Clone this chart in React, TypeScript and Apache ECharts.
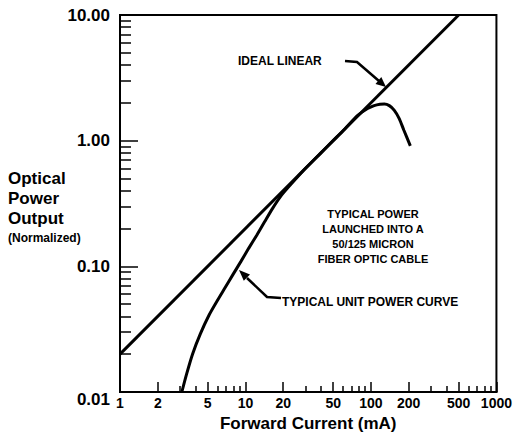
import React, { useEffect, useRef } from "react";
import * as echarts from "echarts";

const xMajorTicks = [1, 2, 5, 10, 20, 50, 100, 200, 500, 1000];
const xMinorTicks = [3, 4, 6, 7, 8, 9, 30, 40, 60, 70, 80, 90, 300, 400, 600, 700, 800, 900];
const yLabelTicks = [0.01, 0.1, 1, 10];
const yMajorTicks = [0.1, 1];
const yMinorTicks = [
  0.02, 0.03, 0.04, 0.05, 0.06, 0.07, 0.08, 0.09,
  0.2, 0.3, 0.4, 0.5, 0.6, 0.7, 0.8, 0.9,
  2, 3, 4, 5, 6, 7, 8, 9,
];

const idealCurrent = [1, 500];
const idealPower = [0.02, 10];

const unitCurrent = [
  3.11, 3.38, 3.79, 4.36, 5.13, 5.94, 6.87, 7.94, 9.18, 10.6, 12.3, 14.2, 16.4, 19.0, 22.0, 26.4,
  30, 40, 50, 62, 78, 94, 106, 118, 128, 140, 153, 168, 183, 206,
];
const unitPower = [
  0.01, 0.0137, 0.0201, 0.0289, 0.041, 0.053, 0.0675, 0.0859, 0.109, 0.139, 0.177, 0.226, 0.288, 0.359, 0.427, 0.523,
  0.6, 0.8, 1.0, 1.24, 1.58, 1.8, 1.9, 1.95, 1.96, 1.9, 1.75, 1.5, 1.21, 0.91,
];

const FONT = "'Liberation Sans', Arial, Helvetica, sans-serif";

export default function App() {
  const ref = useRef<HTMLDivElement>(null);
  useEffect(() => {
    document.body.style.margin = "0";
    if (!ref.current) return;
    const chart = echarts.init(ref.current, null, { renderer: "svg" });
    const baseX = {
      type: "log" as const,
      logBase: 10,
      min: 1,
      max: 1000,
      position: "bottom" as const,
      gridIndex: 0,
      splitLine: { show: false },
      minorTick: { show: false },
    };
    const baseY = {
      type: "log" as const,
      logBase: 10,
      min: 0.01,
      max: 10,
      position: "left" as const,
      gridIndex: 0,
      splitLine: { show: false },
      minorTick: { show: false },
    };
    chart.setOption({
      animation: false,
      backgroundColor: "#fff",
      grid: {
        left: 120,
        right: 14,
        top: 15,
        bottom: 46,
        show: true,
        borderColor: "#000",
        borderWidth: 2,
        backgroundColor: "transparent",
      },
      xAxis: [
        {
          ...baseX,
          axisLine: { show: true, lineStyle: { color: "#000", width: 2 } },
          axisTick: {
            show: true,
            inside: true,
            length: 10,
            customValues: xMajorTicks,
            lineStyle: { color: "#000", width: 1.5 },
          },
          axisLabel: {
            show: true,
            customValues: xMajorTicks,
            color: "#000",
            fontFamily: FONT,
            fontWeight: "bold",
            fontSize: 14,
            margin: 4,
            formatter: (v: number) => String(Math.round(v)),
          },
          name: "Forward Current (mA)",
          nameLocation: "middle",
          nameGap: 22,
          nameTextStyle: { color: "#000", fontFamily: FONT, fontWeight: "bold", fontSize: 17 },
        },
        {
          ...baseX,
          axisLine: { show: false },
          axisTick: {
            show: true,
            inside: true,
            length: 6,
            customValues: xMinorTicks,
            lineStyle: { color: "#000", width: 1.5 },
          },
          axisLabel: { show: false },
        },
      ],
      yAxis: [
        {
          ...baseY,
          axisLine: { show: true, lineStyle: { color: "#000", width: 2 } },
          axisTick: {
            show: true,
            inside: true,
            length: 18,
            customValues: yMajorTicks,
            lineStyle: { color: "#000", width: 1.5 },
          },
          axisLabel: {
            show: true,
            customValues: yLabelTicks,
            color: "#000",
            fontFamily: FONT,
            fontWeight: "bold",
            fontSize: 17,
            margin: 10,
            formatter: (v: number) => (v < 0.05 ? "{low|" + v.toFixed(2) + "}" : v.toFixed(2)),
            rich: {
              low: {
                fontFamily: FONT,
                fontWeight: "bold",
                fontSize: 17,
                color: "#000",
                padding: [14, 0, 0, 0],
              },
            },
          },
        },
        {
          ...baseY,
          axisLine: { show: false },
          axisTick: {
            show: true,
            inside: true,
            length: 11,
            customValues: yMinorTicks,
            lineStyle: { color: "#000", width: 1.5 },
          },
          axisLabel: { show: false },
        },
      ],
      series: [
        {
          type: "line",
          name: "Ideal Linear",
          xAxisIndex: 0,
          yAxisIndex: 0,
          data: idealCurrent.map((x, i) => [x, idealPower[i]]),
          showSymbol: false,
          lineStyle: { color: "#000", width: 3 },
          clip: true,
        },
        {
          type: "line",
          name: "Typical Unit",
          xAxisIndex: 0,
          yAxisIndex: 0,
          data: unitCurrent.map((x, i) => [x, unitPower[i]]),
          showSymbol: false,
          smooth: 0.25,
          lineStyle: { color: "#000", width: 3 },
          clip: true,
        },
      ],
      graphic: [
        { type: "text", left: 8, top: 170, style: { text: "Optical", font: `bold 17px ${FONT}`, fill: "#000" } },
        { type: "text", left: 8, top: 190, style: { text: "Power", font: `bold 17px ${FONT}`, fill: "#000" } },
        { type: "text", left: 8, top: 210, style: { text: "Output", font: `bold 17px ${FONT}`, fill: "#000" } },
        { type: "text", left: 8, top: 232, style: { text: "(Normalized)", font: `bold 12px ${FONT}`, fill: "#000" } },
        {
          type: "text",
          x: 238,
          y: 61,
          style: { text: "IDEAL LINEAR", font: `bold 12px ${FONT}`, fill: "#000", verticalAlign: "middle" },
        },
        {
          type: "polyline",
          shape: { points: [[345, 61], [357, 62], [379, 81]] },
          style: { stroke: "#000", lineWidth: 2.5, fill: null },
        },
        {
          type: "polygon",
          shape: { points: [[386, 87], [375.5, 83.9], [381.3, 77.1]] },
          style: { fill: "#000" },
        },
        {
          type: "text",
          x: 282,
          y: 302,
          style: { text: "TYPICAL UNIT POWER CURVE", font: `bold 12px ${FONT}`, fill: "#000", verticalAlign: "middle" },
        },
        {
          type: "polyline",
          shape: { points: [[281, 298], [267, 297], [247, 278]] },
          style: { stroke: "#000", lineWidth: 2.5, fill: null },
        },
        {
          type: "polygon",
          shape: { points: [[239, 270], [250, 274.4], [243.8, 280.8]] },
          style: { fill: "#000" },
        },
        {
          type: "text",
          x: 373,
          y: 206,
          style: {
            text: "TYPICAL POWER\nLAUNCHED INTO A\n50/125 MICRON\nFIBER OPTIC CABLE",
            font: `bold 11px ${FONT}`,
            fill: "#000",
            align: "center",
            lineHeight: 15,
          },
        },
      ],
    });
    return () => chart.dispose();
  }, []);
  return <div ref={ref} style={{ width: 515, height: 438 }} />;
}
